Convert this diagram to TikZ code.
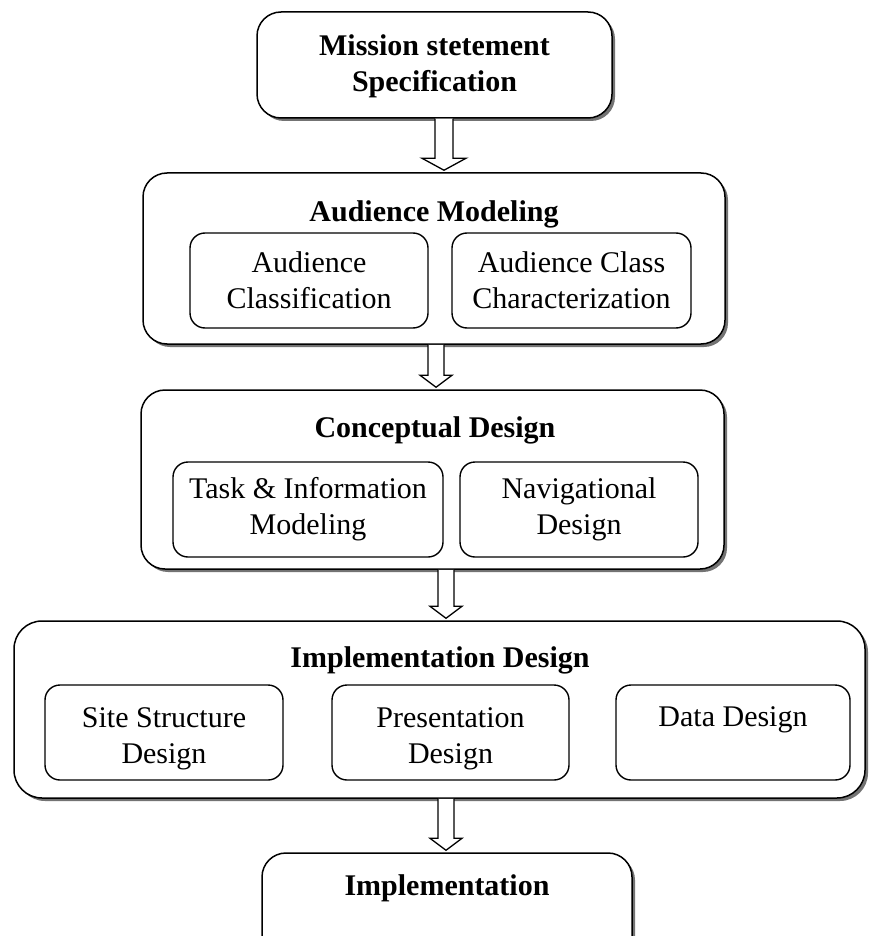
\documentclass[tikz,border=0pt]{standalone}
\usepackage{fontspec}
\setmainfont{Liberation Serif}
\usetikzlibrary{shadows,calc}

\tikzset{
  stage/.style={draw, line width=1.5pt, rounded corners=24pt, fill=white, inner sep=0pt,
    drop shadow={shadow xshift=3pt, shadow yshift=-3pt, fill=black!55, opacity=1}},
  part/.style={draw, line width=1.4pt, rounded corners=15pt, fill=white, align=center,
    inner sep=0pt, font=\fontsize{30}{36}\selectfont},
  parttext/.style={align=center, inner sep=0pt, font=\fontsize{30}{36}\selectfont},
  heading/.style={font=\fontsize{30}{36}\selectfont\bfseries, anchor=base, inner sep=0pt},
  hollow/.style={draw, line width=1.3pt, fill=white, line join=miter}
}

% hollow block arrow from the bottom of #1 to the top of #2 at x = #3,
% shaft half width #4, head half width #5
\newcommand\hollowarrow[5]{%
  \path (#3,0) coordinate (#1-ax);
  \coordinate (#1-from) at (#1-ax |- #1.south);
  \coordinate (#1-to) at ($(#1-ax |- #2.north)+(0,-2)$);
  \draw[hollow] ($(#1-from)+(-#4,0)$) -- ($(#1-to)+(-#4,-12)$) -- ($(#1-to)+(-#5,-12)$)
    -- (#1-to) -- ($(#1-to)+(#5,-12)$) -- ($(#1-to)+(#4,-12)$) -- ($(#1-from)+(#4,0)$);
}

\begin{document}
\begin{tikzpicture}[x=1pt, y=-1pt]
  \useasboundingbox (0,0) rectangle (869,936);
  \clip (0,0) rectangle (869,936);

  % mission statement
  \node[stage, minimum width=355pt, minimum height=106pt] (mission) at (434.5,65) {};
  \node[align=center, inner sep=0pt, font=\fontsize{30}{36}\selectfont\bfseries]
        (missionT) at (434.5,66) {Mission stetement\\Specification};

  % audience modeling
  \node[stage, minimum width=582pt, minimum height=171pt] (audience) at (434,258.5) {};
  \node[heading] (audienceT) at (434,221) {Audience Modeling};
  \node[part, minimum width=238pt, minimum height=95pt] (aclass) at (309,280.5)
        {Audience\\Classification};
  \node[part, minimum width=239pt, minimum height=95pt] (achar) at (571.5,280.5)
        {Audience Class\\Characterization};

  % conceptual design
  \node[stage, minimum width=583pt, minimum height=179pt] (concept) at (432.5,479.5) {};
  \node[heading] (conceptT) at (435,437) {Conceptual Design};
  \node[part, minimum width=270pt, minimum height=95pt] (task) at (308,509.5)
        {Task \& Information\\Modeling};
  \node[part, minimum width=238pt, minimum height=95pt] (nav) at (579,509.5)
        {Navigational\\Design};

  % implementation design
  \node[stage, rounded corners=28pt, minimum width=851pt, minimum height=177pt]
        (impdesign) at (439.5,709.5) {};
  \node[heading] (impdesignT) at (440,667) {Implementation Design};
  \node[part, minimum width=238pt, minimum height=95pt] (site) at (164,732.5) {};
  \node[parttext] (siteT) at (164,739) {Site Structure\\Design};
  \node[part, minimum width=237pt, minimum height=95pt] (pres) at (450.5,732.5) {};
  \node[parttext] (presT) at (450.5,739) {Presentation\\Design};
  \node[part, minimum width=234pt, minimum height=95pt] (data) at (733,732.5) {};
  \node[parttext, anchor=base] (dataT) at (733,726) {Data Design};

  % implementation
  \node[stage, minimum width=370pt, minimum height=107pt] (impl) at (447,906.5) {};
  \node[heading] (implT) at (447,895) {Implementation};

  % flow arrows
  \hollowarrow{mission}{audience}{444}{9}{22}
  \hollowarrow{audience}{concept}{436}{8}{16}
  \hollowarrow{concept}{impdesign}{446}{8}{16}
  \hollowarrow{impdesign}{impl}{446}{8}{16}
\end{tikzpicture}
\end{document}
